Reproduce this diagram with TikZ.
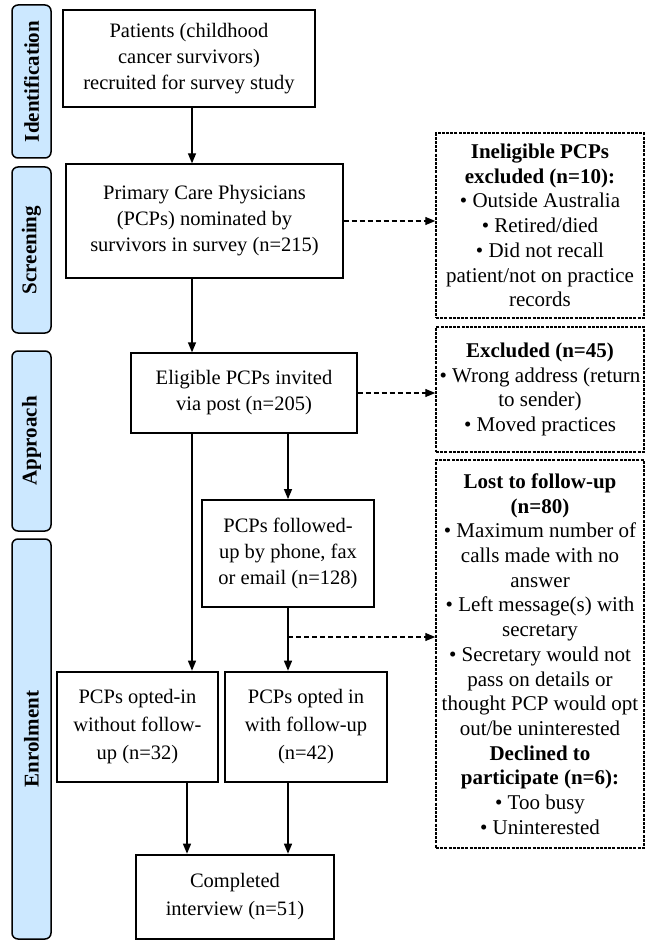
\documentclass[tikz,border=0pt]{standalone}
\usepackage{fontspec}
\setmainfont{Liberation Serif}
\usetikzlibrary{arrows.meta}
\definecolor{stageblue}{RGB}{204,232,255}

\begin{document}
\begin{tikzpicture}[x=1pt,y=-1pt,line width=1.3pt]
\tikzstyle{stage}=[draw,line width=1.5pt,rounded corners=6pt,fill=stageblue,rotate=90,minimum height=39pt,inner sep=0pt,font=\fontsize{21}{21}\selectfont\bfseries];
\tikzstyle{box}=[draw,align=center,inner sep=0pt,font=\fontsize{20.5}{26}\selectfont];
\tikzstyle{heavy}=[box,line width=2.6pt];
\tikzstyle{note}=[draw,dash pattern=on 3pt off 1.2pt,line width=1.5pt,align=center,inner sep=0pt,minimum width=208pt,font=\fontsize{21}{24.7}\selectfont];
\tikzstyle{dir}=[-{Triangle[length=10pt,width=8pt]}];
\tikzstyle{ddir}=[dir,dash pattern=on 5pt off 3pt];

\useasboundingbox (0,0) rectangle (646,941);

% stages on the left
\node [stage,minimum width=153pt] (sId) at (31.5,81.5) {Identification};
\node [stage,minimum width=166pt] (sScr) at (31.5,250) {Screening};
\node [stage,minimum width=180pt] (sApp) at (31.5,441) {Approach};
\node [stage,minimum width=400pt] (sEnr) at (31.5,739) {Enrolment};

% main flow
\node [box,minimum width=252pt,minimum height=97pt] (pat) at (189,58.5) {Patients (childhood\\cancer survivors)\\recruited for survey study};
\node [box,minimum width=277pt,minimum height=114pt] (pcp) at (204.5,221) {Primary Care Physicians\\(PCPs) nominated by\\survivors in survey (n=215)};
\node [box,minimum width=226pt,minimum height=80pt] (elig) at (244,393) {Eligible PCPs invited\\via post (n=205)};
\node [box,line width=1.8pt,minimum width=172pt,minimum height=107pt] (fol) at (288,553.5) {PCPs followed-\\up by phone, fax\\or email (n=128)};
\node [heavy,font=\fontsize{20.5}{28}\selectfont,minimum width=161pt,minimum height=110pt] (optA) at (137.5,727) {PCPs opted-in\\without follow-\\up (n=32)};
\node [heavy,font=\fontsize{20.5}{28}\selectfont,minimum width=162pt,minimum height=110pt] (optB) at (306,727) {PCPs opted in\\with follow-up\\(n=42)};
\node [heavy,font=\fontsize{20.5}{28}\selectfont,minimum width=198pt,minimum height=84pt] (done) at (235,897) {Completed\\interview (n=51)};

% excluded on the right
\node [note,minimum height=185pt] (inel) at (540,225.5) {\textbf{Ineligible PCPs}\\\textbf{excluded (n=10):}\\\textbullet\ Outside Australia\\\textbullet\ Retired/died\\\textbullet\ Did not recall\\patient/not on practice\\records};
\node [note,minimum height=125pt] (excl) at (540,389.5) {\textbf{Excluded (n=45)}\\\textbullet\ Wrong address (return\\to sender)\\\textbullet\ Moved practices};
\node [note,minimum height=388pt] (lost) at (540,654) {\textbf{Lost to follow-up}\\\textbf{(n=80)}\\\textbullet\ Maximum number of\\calls made with no\\answer\\\textbullet\ Left message(s) with\\secretary\\\textbullet\ Secretary would not\\pass on details or\\thought PCP would opt\\out/be uninterested\\\textbf{Declined to}\\\textbf{participate (n=6):}\\\textbullet\ Too busy\\\textbullet\ Uninterested};

\coordinate (colA) at (192,0);
\coordinate (colB) at (187,0);
\coordinate (split) at (288,637);

\draw [dir] (pat.south -| colA) -- (pcp.north -| colA);
\draw [dir] (pcp.south -| colA) -- (elig.north -| colA);
\draw [dir] (elig.south -| colA) -- (optA.north -| colA);
\draw [dir] (elig.south -| fol) -- (fol.north);
\draw [dir] (fol.south) -- (optB.north -| fol);
\draw [dir] (optA.south -| colB) -- (done.north -| colB);
\draw [dir] (optB.south -| fol) -- (done.north -| fol);

\draw [ddir] (pcp.east) -- (pcp.east -| inel.west);
\draw [ddir] (elig.east) -- (elig.east -| excl.west);
\draw [ddir] (split) -- (split -| lost.west);
\end{tikzpicture}
\end{document}
